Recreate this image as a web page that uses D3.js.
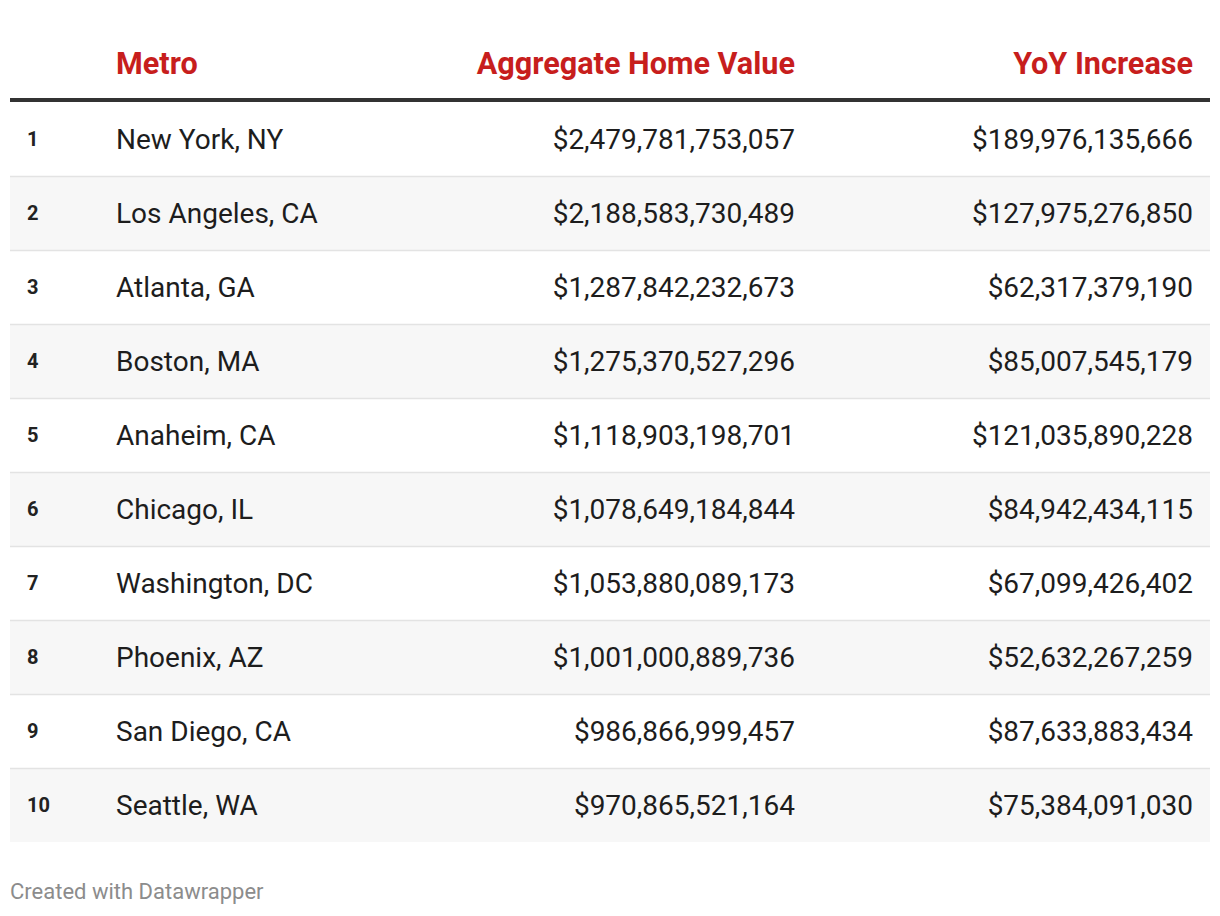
<!DOCTYPE html>
<html>
<head>
<meta charset="utf-8">
<script src="https://cdn.jsdelivr.net/npm/d3@7"></script>
<style>
  body { margin: 0; background: #fff; }
  text { font-family: Roboto, "Noto Sans", sans-serif; }
</style>
</head>
<body>
<div id="chart"></div>
<script>
// table data
var ranks = [1, 2, 3, 4, 5, 6, 7, 8, 9, 10];
var metros = ["New York, NY", "Los Angeles, CA", "Atlanta, GA", "Boston, MA", "Anaheim, CA",
  "Chicago, IL", "Washington, DC", "Phoenix, AZ", "San Diego, CA", "Seattle, WA"];
var homeValues = [2479781753057, 2188583730489, 1287842232673, 1275370527296, 1118903198701,
  1078649184844, 1053880089173, 1001000889736, 986866999457, 970865521164];
var yoyIncrease = [189976135666, 127975276850, 62317379190, 85007545179, 121035890228,
  84942434115, 67099426402, 52632267259, 87633883434, 75384091030];
var headers = ["", "Metro", "Aggregate Home Value", "YoY Increase"];

var width = 1220,
    height = 916,
    left = 10,
    right = 1210,
    headBottom = 102,
    rowH = 74;

var fmt = d3.format("$,.0f");

var svg = d3.select("#chart").append("svg")
    .attr("width", width)
    .attr("height", height);

var y = d3.scaleBand()
    .domain(ranks)
    .range([headBottom, headBottom + rowH * ranks.length]);

// column anchors: x position + alignment
var cols = [
  {x: 27, anchor: "start"},
  {x: 116, anchor: "start"},
  {x: 795, anchor: "end"},
  {x: 1193, anchor: "end"}
];

// header
svg.selectAll("text.head")
    .data(headers)
  .enter().append("text")
    .attr("class", "head")
    .attr("x", function(d, i) { return cols[i].x; })
    .attr("y", 74)
    .attr("text-anchor", function(d, i) { return cols[i].anchor; })
    .attr("fill", "#c71e1d")
    .attr("font-size", 30.6)
    .attr("font-weight", 700)
    .text(function(d) { return d; });

var rows = svg.selectAll("g.row")
    .data(ranks)
  .enter().append("g")
    .attr("class", "row")
    .attr("transform", function(d) { return "translate(0," + y(d) + ")"; });

rows.append("rect")
    .attr("x", left)
    .attr("width", right - left)
    .attr("height", y.bandwidth())
    .attr("fill", function(d, i) { return i % 2 ? "#f7f7f7" : "#fff"; });

rows.filter(function(d, i) { return i > 0; }).append("line")
    .attr("x1", left).attr("x2", right)
    .attr("y1", 0.5).attr("y2", 0.5)
    .attr("stroke", "#e3e3e3")
    .attr("stroke-width", 1.5);

rows.append("text")
    .attr("x", cols[0].x)
    .attr("y", y.bandwidth() / 2)
    .attr("dy", "0.35em")
    .attr("font-size", 20)
    .attr("font-weight", 700)
    .attr("fill", "#222")
    .text(function(d) { return d; });

rows.append("text")
    .attr("x", cols[1].x)
    .attr("y", y.bandwidth() / 2)
    .attr("dy", "0.35em")
    .attr("font-size", 28)
    .attr("fill", "#1d1d1d")
    .text(function(d, i) { return metros[i]; });

rows.append("text")
    .attr("x", cols[2].x)
    .attr("y", y.bandwidth() / 2)
    .attr("dy", "0.35em")
    .attr("text-anchor", "end")
    .attr("font-size", 28)
    .attr("fill", "#1d1d1d")
    .text(function(d, i) { return fmt(homeValues[i]); });

rows.append("text")
    .attr("x", cols[3].x)
    .attr("y", y.bandwidth() / 2)
    .attr("dy", "0.35em")
    .attr("text-anchor", "end")
    .attr("font-size", 28)
    .attr("fill", "#1d1d1d")
    .text(function(d, i) { return fmt(yoyIncrease[i]); });

// thick header rule
svg.append("line")
    .attr("x1", left).attr("x2", right)
    .attr("y1", 100).attr("y2", 100)
    .attr("stroke", "#333")
    .attr("stroke-width", 4);

svg.append("text")
    .attr("x", 10)
    .attr("y", 899)
    .attr("font-size", 22)
    .attr("fill", "#8c8c8c")
    .text("Created with Datawrapper");
</script>
</body>
</html>
